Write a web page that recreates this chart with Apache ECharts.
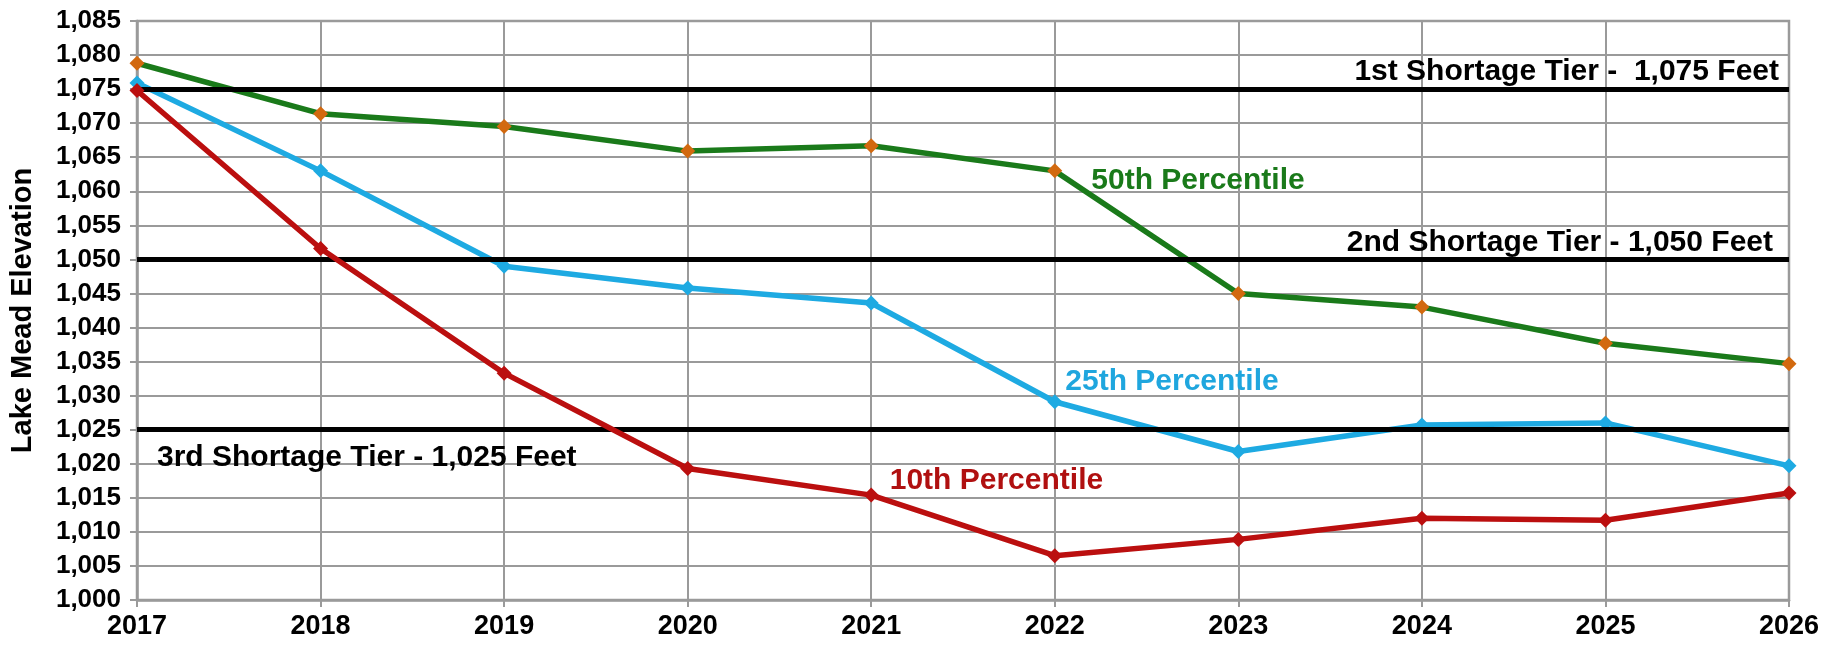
<!DOCTYPE html>
<html>
<head>
<meta charset="utf-8">
<script src="https://cdn.jsdelivr.net/npm/echarts@6/dist/echarts.min.js"></script>
<style>
html,body{margin:0;padding:0;background:#fff;}
#chart{width:1833px;height:647px;}
</style>
</head>
<body>
<div id="chart"></div>
<script>
const years = ['2017','2018','2019','2020','2021','2022','2023','2024','2025','2026'];
const p50 = [1078.8, 1071.4, 1069.5, 1065.9, 1066.7, 1063.0, 1045.0, 1043.0, 1037.7, 1034.7];
const p25 = [1075.9, 1063.0, 1049.0, 1045.8, 1043.6, 1029.1, 1021.8, 1025.7, 1026.0, 1019.7];
const p10 = [1074.8, 1051.6, 1033.3, 1019.3, 1015.4, 1006.5, 1008.9, 1012.0, 1011.7, 1015.7];
const seriesNames = ['50th Percentile', '25th Percentile', '10th Percentile'];
const labelIndex = [5, 5, 4];
const tierValues = [1075, 1050, 1025];
const tierLabels = ['1st Shortage Tier -  1,075 Feet', '2nd Shortage Tier - 1,050 Feet', '3rd Shortage Tier - 1,025 Feet'];
const yMin = 1000, yMax = 1085, yStep = 5;

const FONT = '"Liberation Sans", Arial, sans-serif';
const chart = echarts.init(document.getElementById('chart'), null, {renderer: 'canvas'});

function withLabel(values, idx, name, color, offset) {
  return values.map((v, i) => {
    if (i !== idx) return v;
    return {
      value: v,
      label: {
        show: true, position: 'right', formatter: name, color: color,
        fontFamily: FONT, fontWeight: 'bold', fontSize: 30, offset: offset
      }
    };
  });
}

const lineColors = ['#1a7a1a', '#1eaae2', '#bb0f0f'];
const markerColors = ['#d2690f', '#1eaae2', '#bb0f0f'];
const labelColors = ['#1a7a1a', '#1fa6de', '#b01010'];
const offsets = [[24, 10], [-2, -20], [6, -14]];
const dataSets = [p50, p25, p10];

const series = dataSets.map((d, k) => ({
  name: seriesNames[k],
  type: 'line',
  data: withLabel(d, labelIndex[k], seriesNames[k], labelColors[k], offsets[k]),
  symbol: 'diamond',
  symbolSize: 15,
  lineStyle: {color: lineColors[k], width: 5.5},
  itemStyle: {color: markerColors[k]},
  z: 3 + k,
  animation: false
}));

const tierPositions = ['insideEndTop', 'insideEndTop', 'insideStartBottom'];
const tierDist = [[10, 2], [16, 2], [20, 13]];
series.push({
  name: 'tiers',
  type: 'line',
  data: [],
  z: 10,
  markLine: {
    silent: true,
    symbol: ['none', 'none'],
    animation: false,
    lineStyle: {color: '#000', width: 5, type: 'solid'},
    data: tierValues.map((v, i) => ({
      yAxis: v,
      label: {
        show: true,
        formatter: tierLabels[i],
        position: tierPositions[i],
        distance: tierDist[i],
        color: '#000',
        fontFamily: FONT, fontWeight: 'bold', fontSize: 30
      }
    }))
  }
});

chart.setOption({
  animation: false,
  backgroundColor: '#fff',
  grid: {left: 137, right: 44, top: 21, bottom: 47, show: true, borderColor: '#9a9a9a', borderWidth: 2.5},
  xAxis: {
    type: 'category',
    data: years,
    boundaryGap: false,
    axisLine: {lineStyle: {color: '#9a9a9a', width: 2.5}},
    axisTick: {show: true, alignWithLabel: true, length: 7, lineStyle: {color: '#9a9a9a', width: 2}},
    axisLabel: {color: '#000', fontFamily: FONT, fontWeight: 'bold', fontSize: 27, margin: 13},
    splitLine: {show: true, lineStyle: {color: '#9a9a9a', width: 2}}
  },
  yAxis: {
    type: 'value',
    min: yMin, max: yMax, interval: yStep,
    name: 'Lake Mead Elevation',
    nameLocation: 'middle',
    nameGap: 100,
    nameTextStyle: {color: '#000', fontFamily: FONT, fontWeight: 'bold', fontSize: 29},
    axisLine: {show: true, lineStyle: {color: '#9a9a9a', width: 2.5}},
    axisTick: {show: true, length: 7, lineStyle: {color: '#9a9a9a', width: 2}},
    axisLabel: {
      color: '#000', fontFamily: FONT, fontWeight: 'bold', fontSize: 26, margin: 16,
      formatter: v => v.toLocaleString('en-US')
    },
    splitLine: {show: true, lineStyle: {color: '#9a9a9a', width: 2}}
  },
  series: series
});
</script>
</body>
</html>
